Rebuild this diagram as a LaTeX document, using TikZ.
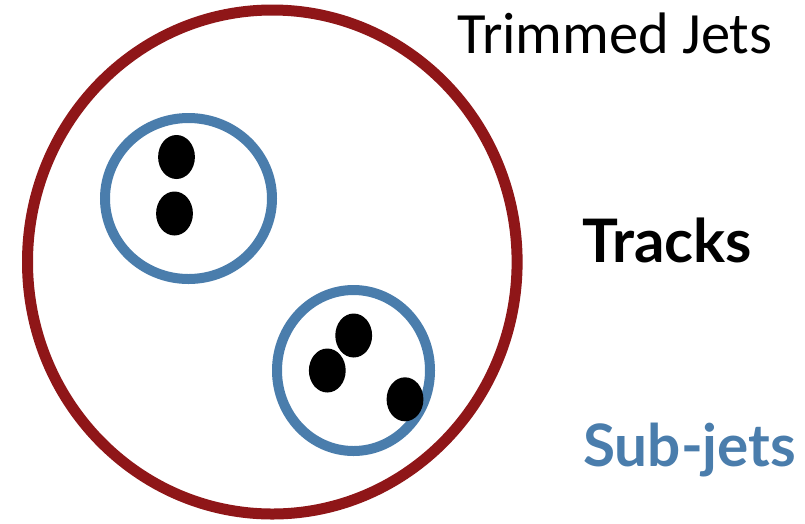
\documentclass[tikz,border=0pt]{standalone}
\usepackage{fontspec}
\setmainfont{Carlito}
\newfontfamily\latofont{Lato}
\usetikzlibrary{positioning}
\definecolor{jetred}{RGB}{143,22,24}
\definecolor{subblue}{RGB}{74,125,172}
\tikzset{
  jet/.style={draw=jetred,line width=11pt},
  subjet/.style={draw=subblue,line width=10pt},
  track/.style={fill=black},
  label/.style={anchor=base west,inner sep=0pt}
}
\begin{document}
\begin{tikzpicture}[x=1pt,y=-1pt]
    \useasboundingbox (0,0) rectangle (805,523);
    % trimmed jet
    \draw[jet] (272.3,262) ellipse [x radius=244.8,y radius=252];
    % sub-jets
    \draw[subjet] (188.5,198.5) ellipse [x radius=83.5,y radius=80.5];
    \draw[subjet] (353.5,370.5) ellipse [x radius=76.5,y radius=80.5];
    % tracks
    \foreach \x/\y in {176.5/157,174.5/213.5,353.7/335.5,327.3/370.5,405/399.3} {
      \fill[track] (\x,\y) ellipse [x radius=18.4,y radius=22];
    }
    \node[label,font=\fontsize{58.5}{62}\selectfont] (trimmed) at (457,53) {Trimmed Jets};
    \node[label,font=\latofont\bfseries\fontsize{60}{64}\selectfont] (tracks) at (582,262) {Tracks};
    \node[label,font=\latofont\bfseries\fontsize{58.5}{62}\selectfont,text=subblue] (subjets) at (583,466.7) {Sub-jets};
  \end{tikzpicture}
\end{document}
